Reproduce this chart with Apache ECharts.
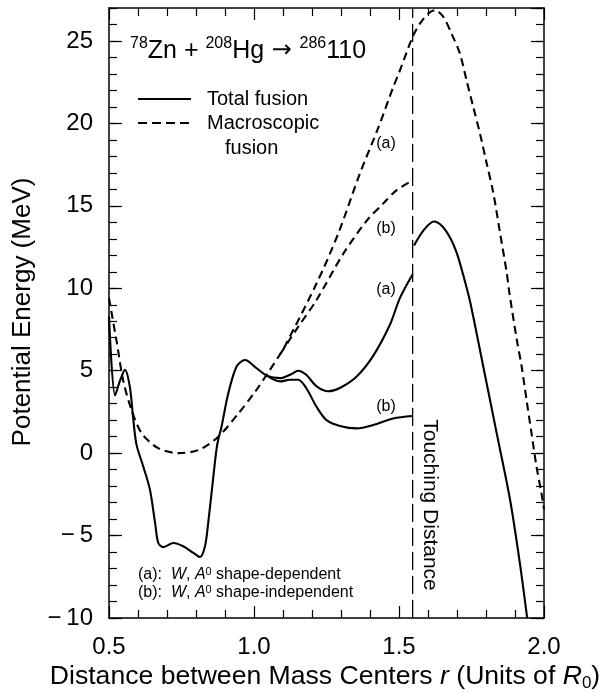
<!DOCTYPE html>
<html>
<head>
<meta charset="utf-8">
<script src="https://cdn.jsdelivr.net/npm/echarts@6/dist/echarts.min.js"></script>
<style>
html, body { margin: 0; padding: 0; background: #fff; }
#main { width: 605px; height: 694px; }
</style>
</head>
<body>
<div id="main"></div>
<script>
var FONT = '"Liberation Sans", Arial, Helvetica, sans-serif';

// macroscopic fusion, branch (a) (continues past the touching point)
var macroAX = [0.50, 0.527, 0.549, 0.578, 0.613, 0.67, 0.74, 0.81, 0.877, 0.946, 1.003, 1.055, 1.09, 1.107, 1.216, 1.29, 1.366, 1.43, 1.48, 1.503, 1.547, 1.572, 1.601, 1.624, 1.653, 1.681, 1.71, 1.733, 1.756, 1.779, 1.802, 1.825, 1.848, 1.871, 1.88, 1.906, 1.923, 1.94, 1.957, 1.974, 1.991, 2.0];
var macroAY = [9.4, 6.7, 4.4, 2.6, 1.2, 0.3, 0.0, 0.2, 1.0, 2.4, 3.7, 5.05, 6.0, 6.5, 10.3, 13.3, 17.0, 19.8, 22.2, 23.2, 25.25, 26.05, 26.67, 26.87, 26.46, 25.45, 24.24, 22.6, 21.0, 19.4, 17.6, 15.8, 13.4, 11.0, 9.8, 6.9, 5.25, 3.2, 1.2, -0.8, -2.4, -3.4];

// macroscopic fusion, branch (b)
var macroBX = [1.09, 1.15, 1.216, 1.308, 1.389, 1.446, 1.492, 1.547];
var macroBY = [6.0, 7.6, 9.3, 12.1, 14.1, 15.15, 15.95, 16.55];

// total fusion, branch (a)
var totalAX = [0.50, 0.521, 0.538, 0.555, 0.572, 0.584, 0.595, 0.618, 0.641, 0.659, 0.67, 0.687, 0.722, 0.756, 0.791, 0.814, 0.831, 0.842, 0.86, 0.873, 0.888, 0.911, 0.94, 0.969, 1.009, 1.044, 1.09, 1.124, 1.153, 1.18, 1.216, 1.256, 1.296, 1.354, 1.411, 1.469, 1.503, 1.547];
var totalAY = [8.3, 3.5, 4.4, 5.05, 4.0, 2.0, 0.5, -0.8, -2.2, -4.25, -5.45, -5.7, -5.45, -5.65, -6.05, -6.3, -5.65, -4.25, -1.4, 0.5, 1.6, 3.6, 5.25, 5.65, 5.15, 4.7, 4.55, 4.75, 5.0, 4.75, 4.05, 3.75, 3.95, 4.65, 5.9, 7.8, 9.4, 10.85];

// total fusion, branch (b)
var totalBX = [1.044, 1.09, 1.124, 1.153, 1.18, 1.216, 1.25, 1.296, 1.354, 1.411, 1.48, 1.547];
var totalBY = [4.7, 4.35, 4.45, 4.45, 3.95, 2.8, 2.0, 1.65, 1.5, 1.7, 2.1, 2.25];

// total fusion beyond touching
var outerX = [1.552, 1.584, 1.62, 1.65, 1.68, 1.70, 1.72, 1.745, 1.79, 1.837, 1.883, 1.917, 1.942];
var outerY = [12.6, 13.5, 14.05, 13.75, 12.95, 12.1, 10.9, 9.2, 5.3, 1.2, -2.83, -6.7, -10];

var touchX = 1.547;
var xTicks = [0.5, 1.0, 1.5, 2.0];
var yRange = [-10, 27];

function zip(xs, ys) {
	var out = [];
	for (var i = 0; i < xs.length; i++) out.push([xs[i], ys[i]]);
	return out;
}

var myChart = echarts.init(document.getElementById('main'));

var dash = [8, 5];
function curve(xs, ys, dashed) {
	return {
		type: 'line',
		data: zip(xs, ys),
		showSymbol: false,
		smooth: 0.3,
		silent: true,
		lineStyle: { color: '#000', width: 2.1, type: dashed ? dash : 'solid' }
	};
}

function xAx(pos, labels) {
	return {
		type: 'value', position: pos,
		min: xTicks[0], max: xTicks[xTicks.length - 1], interval: 0.5,
		axisLine: { show: true, onZero: false, lineStyle: { color: '#000', width: 1.5 } },
		axisTick: { show: true, inside: true, length: 12, lineStyle: { color: '#000', width: 1.2 } },
		minorTick: { show: true, splitNumber: 5, length: 8, lineStyle: { color: '#000', width: 1.2 } },
		splitLine: { show: false },
		axisLabel: {
			show: labels, color: '#000', fontSize: 24, fontFamily: FONT, margin: 17,
			formatter: function (v) { return v.toFixed(1); }
		}
	};
}

function yAx(pos, step, len, labels, line) {
	return {
		type: 'value', position: pos, offset: 0,
		min: yRange[0], max: yRange[1], interval: step,
		axisLine: { show: line, onZero: false, lineStyle: { color: '#000', width: 1.5 } },
		axisTick: { show: true, inside: true, length: len, lineStyle: { color: '#000', width: 1.2 } },
		splitLine: { show: false },
		axisLabel: {
			show: labels, color: '#000', fontSize: 24, fontFamily: FONT, margin: 16,
			showMaxLabel: false,
			formatter: function (v) {
				if (v % 5 !== 0) return '';
				return v < 0 ? '\u2212\u2009' + (-v) : String(v);
			}
		}
	};
}

function txt(x, y, text, size, extra) {
	var st = { text: text, fontSize: size, fontFamily: FONT, fill: '#000', verticalAlign: 'middle', align: 'left' };
	for (var k in extra) st[k] = extra[k];
	return { type: 'text', x: x, y: y, style: st, silent: true };
}

option = {
	animation: false,
	backgroundColor: '#fff',
	grid: { left: 109, right: 61, top: 8, bottom: 76, containLabel: false },
	xAxis: [xAx('bottom', true), xAx('top', false)],
	yAxis: [
		yAx('left', 5, 13, true, true),
		yAx('left', 1, 8, false, false),
		yAx('right', 5, 13, false, true),
		yAx('right', 1, 8, false, false)
	],
	series: [
		curve(macroAX, macroAY, true),
		curve(macroBX, macroBY, true),
		curve(totalAX, totalAY, false),
		curve(totalBX, totalBY, false),
		curve(outerX, outerY, false),
		{
			type: 'line', silent: true, showSymbol: false,
			data: [[touchX, yRange[0]], [touchX, yRange[1]]],
			lineStyle: { color: '#000', width: 1.3, type: [18, 6] }
		}
	],
	graphic: [
		txt(130, 51, '{s|78}{n|Zn}{o| + }{s|208}{n|Hg}{a| \u2192 }{s|286}{n|110}', 25, {
			rich: {
				n: { fontSize: 25, fontFamily: FONT, lineHeight: 30 },
				o: { fontSize: 25, fontFamily: FONT, lineHeight: 30 },
				a: { fontSize: 24, fontFamily: '"DejaVu Sans", sans-serif', lineHeight: 30 },
				s: { fontSize: 16, fontFamily: FONT, lineHeight: 7, verticalAlign: 'top' }
			}
		}),
		{ type: 'line', silent: true, shape: { x1: 138, y1: 99, x2: 191, y2: 99 }, style: { stroke: '#000', lineWidth: 2 } },
		{ type: 'line', silent: true, shape: { x1: 138, y1: 123, x2: 191, y2: 123 }, style: { stroke: '#000', lineWidth: 2, lineDash: [9, 5] } },
		txt(207, 99, 'Total fusion', 20),
		txt(207, 123, 'Macroscopic', 20),
		txt(225, 148, 'fusion', 20),
		txt(386, 144, '(a)', 16, { align: 'center' }),
		txt(386, 229, '(b)', 16, { align: 'center' }),
		txt(386, 290, '(a)', 16, { align: 'center' }),
		txt(386, 407, '(b)', 16, { align: 'center' }),
		txt(138, 575, '(a):  {i|W}, {i|A}{s|0} shape-dependent', 16, {
			rich: {
				i: { fontSize: 16, fontFamily: FONT, fontStyle: 'italic', lineHeight: 18 },
				s: { fontSize: 11, fontFamily: FONT, lineHeight: 8, verticalAlign: 'top' }
			}
		}),
		txt(138, 593, '(b):  {i|W}, {i|A}{s|0} shape-independent', 16, {
			rich: {
				i: { fontSize: 16, fontFamily: FONT, fontStyle: 'italic', lineHeight: 18 },
				s: { fontSize: 11, fontFamily: FONT, lineHeight: 8, verticalAlign: 'top' }
			}
		}),
		{
			type: 'text', x: 430, y: 505, rotation: -Math.PI / 2, silent: true,
			style: { text: 'Touching Distance', fontSize: 21, fontFamily: FONT, fill: '#000', align: 'center', verticalAlign: 'middle' }
		},
		{
			type: 'text', x: 23, y: 312, rotation: Math.PI / 2, silent: true,
			style: { text: 'Potential Energy (MeV)', fontSize: 26, fontFamily: FONT, fill: '#000', align: 'center', verticalAlign: 'middle' }
		},
		txt(325, 677, 'Distance between Mass Centers {i|r} (Units of {i|R}{b|0})', 26.6, {
			align: 'center',
			rich: {
				i: { fontSize: 26.6, fontFamily: FONT, fontStyle: 'italic', lineHeight: 30 },
				b: { fontSize: 17, fontFamily: FONT, lineHeight: 16, verticalAlign: 'bottom' }
			}
		})
	]
};
myChart.setOption(option);
</script>
</body>
</html>
